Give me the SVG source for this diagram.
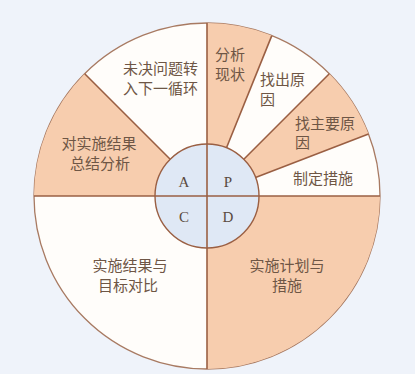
<svg xmlns="http://www.w3.org/2000/svg" width="415" height="374" viewBox="0 0 415 374">
<style>
.lbl{font-family:"Noto Sans CJK SC","Noto Sans",sans-serif;font-size:15px;fill:#6e5645}
.let{font-family:"Liberation Serif",serif;font-size:15px;fill:#5a4a40;text-anchor:middle}
.sh{fill:#f7cdae}
.ln{stroke:#9a5f43;stroke-width:1.6;fill:none}
</style>
<rect width="415" height="374" fill="#eff3fa"/>
<g id="wheel">
<circle cx="207" cy="196" r="173" fill="#fffdfa" stroke="#a87a62" stroke-width="1.3"/>
</g>
<g id="p1"><path class="sh" d="M207,23 A173,173 0 0 1 271.8,35.6 L226.5,147.8 A52,52 0 0 0 207,144 Z"/>
<text class="lbl" x="215" y="60">分析</text><text class="lbl" x="215" y="80">现状</text></g>
<g id="p2"><text class="lbl" x="260" y="85">找出原</text><text class="lbl" x="260" y="105">因</text></g>
<g id="p3"><path class="sh" d="M329.3,73.7 A173,173 0 0 1 368.5,134 L255.5,177.4 A52,52 0 0 0 243.8,159.2 Z"/>
<text class="lbl" x="295" y="128.5">找主要原</text><text class="lbl" x="295" y="148">因</text></g>
<g id="p4"><text class="lbl" x="293" y="184">制定措施</text></g>
<g id="a1"><text class="lbl" x="123" y="74">未决问题转</text><text class="lbl" x="123" y="94">入下一循环</text></g>
<g id="a2"><path class="sh" d="M84.7,73.7 A173,173 0 0 0 34,196 L155,196 A52,52 0 0 1 170.2,159.2 Z"/>
<text class="lbl" x="99" y="149" text-anchor="middle">对实施结果</text><text class="lbl" x="100" y="169" text-anchor="middle">总结分析</text></g>
<g id="c"><text class="lbl" x="130" y="271" text-anchor="middle">实施结果与</text><text class="lbl" x="128" y="291" text-anchor="middle">目标对比</text></g>
<g id="d"><path class="sh" d="M380,196 A173,173 0 0 1 207,369 L207,248 A52,52 0 0 0 259,196 Z"/>
<text class="lbl" x="287" y="271" text-anchor="middle">实施计划与</text><text class="lbl" x="287" y="291" text-anchor="middle">措施</text></g>
<g id="hub">
<circle cx="207" cy="196" r="52" fill="#dfe8f5" stroke="#9a5f43" stroke-width="1.4"/>
<text class="let" x="184" y="187">A</text><text class="let" x="228" y="187">P</text>
<text class="let" x="184" y="222">C</text><text class="let" x="228" y="222">D</text>
</g>
<g id="connectors">
<line class="ln" x1="207" y1="23" x2="207" y2="369"/>
<line class="ln" x1="34" y1="196" x2="380" y2="196"/>
<line class="ln" x1="226.5" y1="147.8" x2="271.8" y2="35.6"/>
<line class="ln" x1="243.8" y1="159.2" x2="329.3" y2="73.7"/>
<line class="ln" x1="255.5" y1="177.4" x2="368.5" y2="134"/>
<line class="ln" x1="170.2" y1="159.2" x2="84.7" y2="73.7"/>
</g>
</svg>
